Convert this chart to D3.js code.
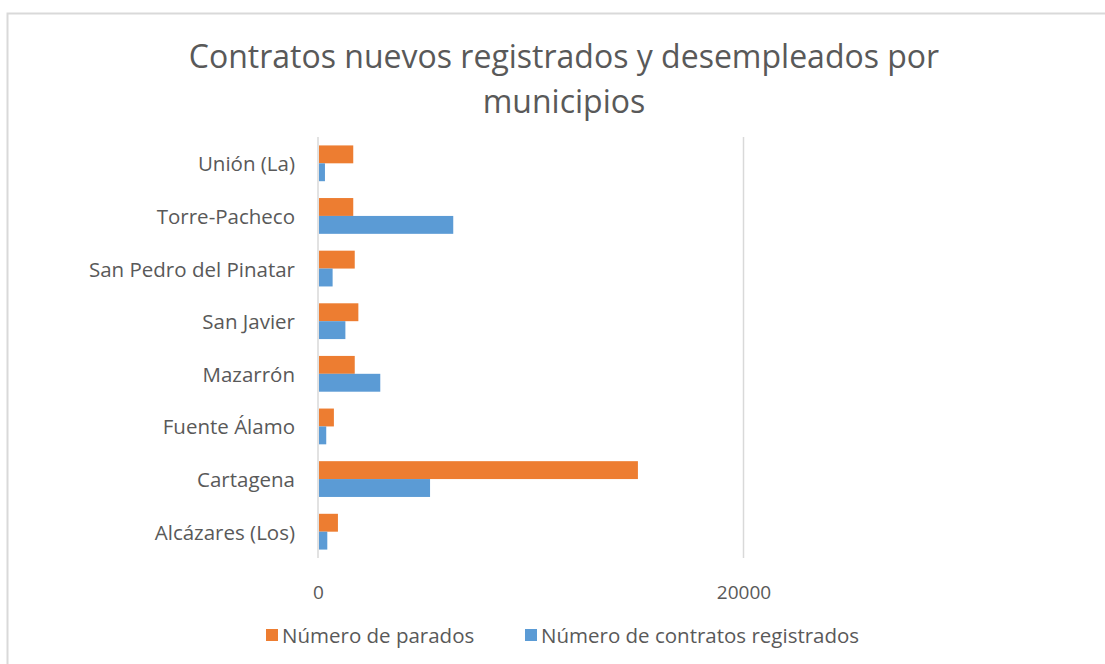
<!DOCTYPE html>
<html>
<head>
<meta charset="utf-8">
<script src="https://cdn.jsdelivr.net/npm/d3@7"></script>
<style>
  html, body { margin: 0; padding: 0; background: #ffffff; }
  svg { display: block; }
  text { font-family: "Open Sans", "Noto Sans", sans-serif; fill: #595959; }
</style>
</head>
<body>
<svg id="chart" width="1105" height="664"></svg>
<script>
// ---- data (top to bottom as shown) ----
const categories = ["Unión (La)", "Torre-Pacheco", "San Pedro del Pinatar", "San Javier", "Mazarrón", "Fuente Álamo", "Cartagena", "Alcázares (Los)"];
const parados =   [1610, 1610, 1680, 1850, 1680, 700, 14990, 890];
const contratos = [280, 6310, 640, 1240, 2880, 340, 5220, 390];
const seriesNames = ["Número de parados", "Número de contratos registrados"];
const seriesColors = ["#ED7D31", "#5B9BD5"];
const xTicks = [0, 20000];
const titleLines = ["Contratos nuevos registrados y desempleados por", "municipios"];

const svg = d3.select("#chart");

// outer chart border
svg.append("rect")
  .attr("x", 7.5).attr("y", 13.5)
  .attr("width", 1120).attr("height", 700)
  .attr("fill", "#ffffff")
  .attr("stroke", "#d9d9d9").attr("stroke-width", 2);

// title
svg.append("g").selectAll("text").data(titleLines).join("text")
  .attr("x", 564)
  .attr("y", (d, i) => 68 + i * 45)
  .attr("text-anchor", "middle")
  .attr("font-size", 32)
  .text(d => d);

const x = d3.scaleLinear().domain([0, 20000]).range([318, 743.5]);
const y = d3.scaleBand().domain(categories).range([137, 558]).paddingInner(0.32).paddingOuter(0.16);
const ySub = d3.scaleBand().domain([0, 1]).range([0, y.bandwidth()]);

// gridlines
svg.append("g").selectAll("line").data(xTicks).join("line")
  .attr("x1", d => x(d)).attr("x2", d => x(d))
  .attr("y1", 137).attr("y2", 558)
  .attr("stroke", "#d9d9d9").attr("stroke-width", 1.5);

// bars
const seriesData = [parados, contratos];
seriesData.forEach((vals, s) => {
  svg.append("g").selectAll("rect").data(vals).join("rect")
    .attr("x", x(0) + 1)
    .attr("y", (d, i) => y(categories[i]) + ySub(s))
    .attr("width", d => x(d) - x(0))
    .attr("height", ySub.bandwidth())
    .attr("fill", seriesColors[s]);
});

// category labels
svg.append("g").selectAll("text").data(categories).join("text")
  .attr("x", 295)
  .attr("y", d => y(d) + y.bandwidth() / 2 + 8)
  .attr("text-anchor", "end")
  .attr("font-size", 20.5)
  .text(d => d);

// x axis tick labels
const xAxis = d3.axisBottom(x).tickValues(xTicks).tickSize(0).tickPadding(0).tickFormat(d3.format("d"));
const gx = svg.append("g").attr("transform", "translate(0,585)").call(xAxis);
gx.select(".domain").remove();
gx.selectAll("text")
  .attr("font-size", 19)
  .attr("font-family", "\"Open Sans\", sans-serif")
  .attr("fill", "#595959")
  .attr("dy", "0.72em");

// legend
const legendX = [266, 525];
const lg = svg.append("g");
seriesNames.forEach((name, i) => {
  lg.append("rect")
    .attr("x", legendX[i]).attr("y", 629)
    .attr("width", 12).attr("height", 12)
    .attr("fill", seriesColors[i]);
  lg.append("text")
    .attr("x", legendX[i] + 16).attr("y", 643)
    .attr("font-size", 20.5)
    .text(name);
});
</script>
</body>
</html>
